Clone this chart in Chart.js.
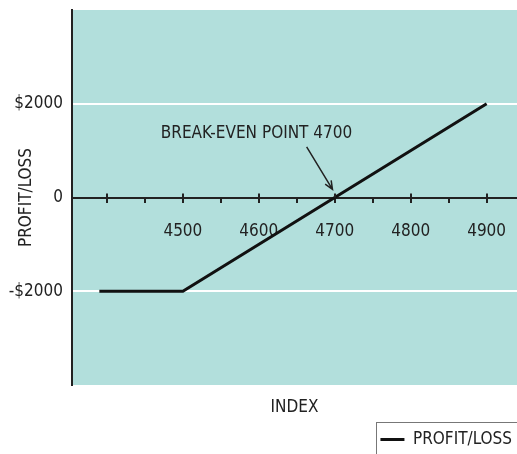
<!DOCTYPE html>
<html>
<head>
<meta charset="utf-8">
<script src="https://cdn.jsdelivr.net/npm/chart.js@4.4.1/dist/chart.umd.min.js"></script>
<style>
  body { margin: 0; background: #fff; }
  #wrap { width: 517px; height: 454px; }
</style>
</head>
<body>
<div id="wrap"><canvas id="pl-chart"></canvas></div>
<script>
// ----------------------------------------------
// Data
// ----------------------------------------------
const indexValues = [4390, 4500, 4900];
const profitLoss = [-2000, -2000, 2000];

const xMajorTicks = [4400, 4500, 4600, 4700, 4800, 4900];
const xMinorTicks = [4450, 4550, 4650, 4750, 4850];
const xLabelTicks = [4500, 4600, 4700, 4800, 4900];
const yTicks = [-2000, 0, 2000];
const yTickLabels = ['-$2000', '0', '$2000'];

const breakEvenText = 'BREAK-EVEN POINT 4700';
const breakEvenTextAt = [4597, 1355];
const arrowTail = [4663, 1080];
const arrowTip = [4697, 175];

const FONT = "'DejaVu Sans Condensed', 'Liberation Sans', sans-serif";
const FONT_SIZE = 17;
const INK = '#222';
const PLOT_BG = '#b2dfdc';

const plCtx = document.getElementById('pl-chart').getContext('2d');

// fill the plot area teal
const plotBackground = {
  id: 'plotBackground',
  beforeDraw: chart => {
    const { ctx, chartArea: a } = chart;
    ctx.save();
    ctx.fillStyle = PLOT_BG;
    ctx.fillRect(a.left, a.top, a.right - a.left, a.bottom - a.top);
    ctx.restore();
  },
};

// upper half of the major ticks on the zero line, the callout, the legend frame
const extras = {
  id: 'extras',
  afterDraw: chart => {
    const { ctx } = chart;
    const xs = chart.scales.x;
    const ys = chart.scales.y;
    const y0 = ys.getPixelForValue(0);

    ctx.save();
    ctx.strokeStyle = INK;
    ctx.lineWidth = 2;
    xMajorTicks.forEach(v => {
      const px = Math.round(xs.getPixelForValue(v));
      ctx.beginPath();
      ctx.moveTo(px, y0);
      ctx.lineTo(px, y0 - 4);
      ctx.stroke();
    });

    // callout text
    ctx.fillStyle = INK;
    ctx.font = FONT_SIZE + 'px ' + FONT;
    ctx.textAlign = 'center';
    ctx.textBaseline = 'middle';
    ctx.fillText(breakEvenText, xs.getPixelForValue(breakEvenTextAt[0]), ys.getPixelForValue(breakEvenTextAt[1]));

    // arrow
    const tx = xs.getPixelForValue(arrowTail[0]);
    const ty = ys.getPixelForValue(arrowTail[1]);
    const hx = xs.getPixelForValue(arrowTip[0]);
    const hy = ys.getPixelForValue(arrowTip[1]);
    const ang = Math.atan2(hy - ty, hx - tx);
    ctx.lineWidth = 1.5;
    ctx.beginPath();
    ctx.moveTo(tx, ty);
    ctx.lineTo(hx, hy);
    ctx.moveTo(hx - 9 * Math.cos(ang - 0.4), hy - 9 * Math.sin(ang - 0.4));
    ctx.lineTo(hx, hy);
    ctx.lineTo(hx - 9 * Math.cos(ang + 0.4), hy - 9 * Math.sin(ang + 0.4));
    ctx.stroke();

    // legend frame, runs off the canvas on the right and bottom
    const lg = chart.legend;
    if (lg && lg.legendHitBoxes && lg.legendHitBoxes.length) {
      const hb = lg.legendHitBoxes[0];
      ctx.strokeStyle = '#777';
      ctx.lineWidth = 1;
      ctx.strokeRect(Math.round(hb.left) - 3.5, Math.round(lg.top) - 3.5, chart.width, chart.height);
    }
    ctx.restore();
  },
};

const xMin = 4354;
const xMax = 4940;

const noPadding = s => {
  s.paddingLeft = 0;
  s.paddingRight = 0;
  s.paddingTop = 0;
  s.paddingBottom = 0;
};

const initChart = () => {
  const data = {
    datasets: [
      {
        label: 'PROFIT/LOSS',
        data: indexValues.map((x, i) => ({ x, y: profitLoss[i] })),
        borderColor: '#111',
        backgroundColor: '#111',
        borderWidth: 3,
        pointRadius: 0,
        fill: false,
        tension: 0,
      },
    ],
  };

  const myChart = new Chart(plCtx, {
    type: 'line',
    data,
    plugins: [plotBackground, extras],
    options: {
      responsive: true,
      maintainAspectRatio: false,
      animation: false,
      layout: { padding: { top: 10, right: 0, left: 0, bottom: 0 } },
      plugins: {
        tooltip: { enabled: false },
        legend: {
          position: 'bottom',
          align: 'end',
          maxHeight: 28,
          labels: {
            color: INK,
            font: { family: FONT, size: FONT_SIZE },
            boxWidth: 24,
            boxHeight: 3,
            padding: 5,
            generateLabels: chart =>
              Chart.defaults.plugins.legend.labels.generateLabels(chart).map(l => ({ ...l, lineWidth: 0, fillStyle: '#111' })),
          },
        },
      },
      scales: {
        x: {
          type: 'linear',
          position: { y: 0 },
          min: xMin,
          max: xMax,
          afterBuildTicks: s => {
            s.ticks = xMajorTicks.concat(xMinorTicks).sort((a, b) => a - b).map(v => ({ value: v }));
          },
          afterFit: noPadding,
          ticks: {
            color: INK,
            font: { family: FONT, size: FONT_SIZE },
            padding: 20,
            maxRotation: 0,
            autoSkip: false,
            callback: v => (xLabelTicks.includes(v) ? String(v) : ''),
          },
          grid: {
            drawOnChartArea: false,
            drawTicks: true,
            tickLength: 4,
            color: INK,
            lineWidth: 2,
          },
          border: { display: true, color: INK, width: 2 },
        },
        x2: {
          type: 'linear',
          position: 'bottom',
          min: xMin,
          max: xMax,
          afterFit: noPadding,
          ticks: { display: false },
          grid: { display: false, drawTicks: false },
          border: { display: false },
          title: {
            display: true,
            text: 'INDEX',
            color: INK,
            font: { family: FONT, size: FONT_SIZE },
            padding: { top: 12.6, bottom: 8 },
          },
        },
        y: {
          type: 'linear',
          min: -4000,
          max: 4000,
          afterBuildTicks: s => {
            s.ticks = yTicks.map(v => ({ value: v }));
          },
          afterFit: s => {
            s.width = 72;
            noPadding(s);
          },
          ticks: {
            color: INK,
            font: { family: FONT, size: FONT_SIZE },
            padding: 9,
            callback: v => yTickLabels[yTicks.indexOf(v)],
          },
          grid: {
            drawTicks: false,
            lineWidth: 2,
            color: ctx => (ctx.tick && ctx.tick.value !== 0 ? '#ffffff' : 'rgba(0,0,0,0)'),
          },
          border: { display: true, color: INK, width: 2 },
          title: {
            display: true,
            text: 'PROFIT/LOSS',
            color: INK,
            font: { family: FONT, size: FONT_SIZE },
            padding: { top: 16.8, bottom: 0 },
          },
        },
      },
    },
  });
};

initChart();
</script>
</body>
</html>
